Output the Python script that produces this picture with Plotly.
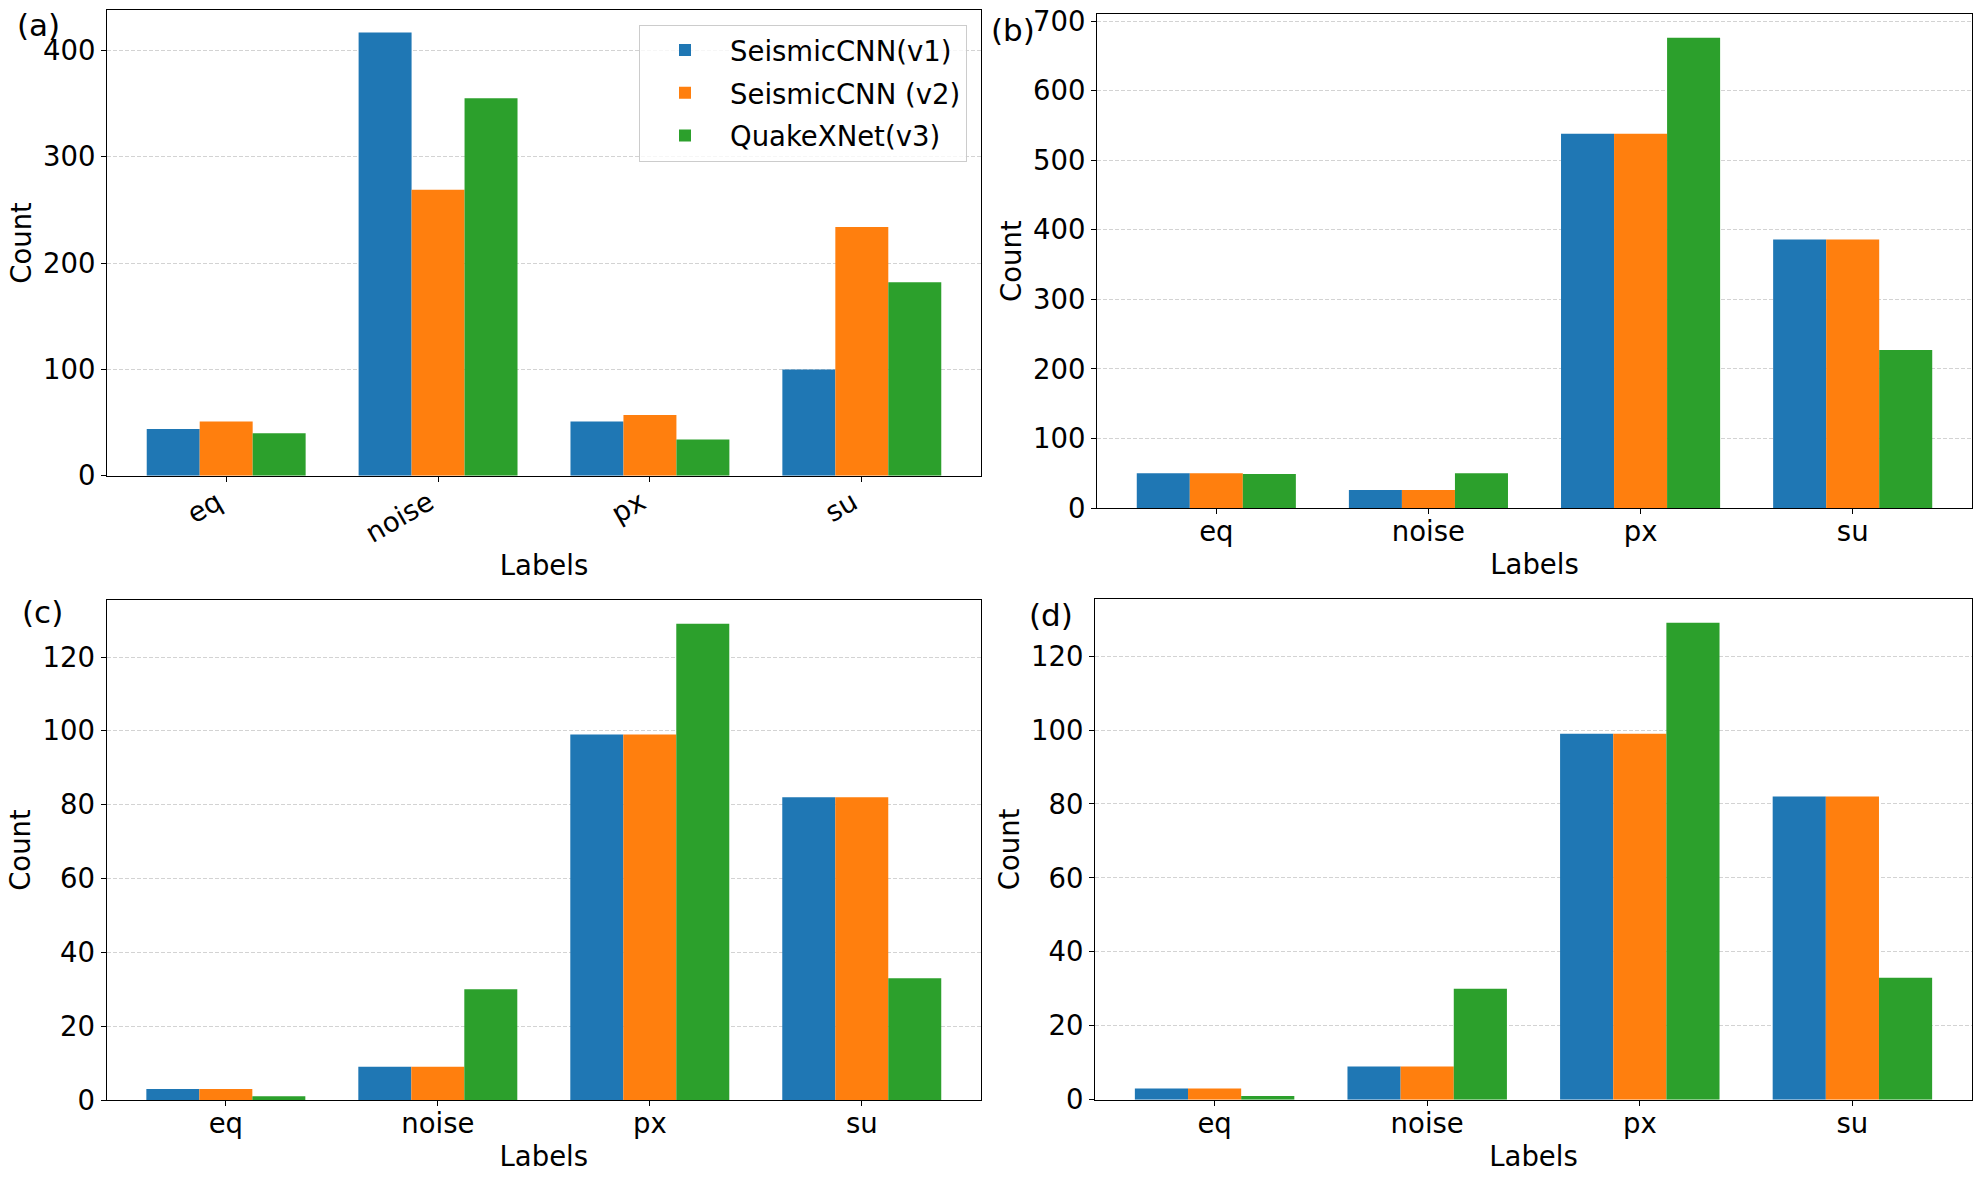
import plotly.graph_objects as go

categories = ["eq", "noise", "px", "su"]
series_names = ["SeismicCNN(v1)", "SeismicCNN (v2)", "QuakeXNet(v3)"]
colors = ["#1f77b4", "#ff7f0e", "#2ca02c"]

a_v1 = [44, 417, 51, 100]
a_v2 = [51, 269, 57, 234]
a_v3 = [40, 355, 34, 182]

b_v1 = [50, 26, 538, 386]
b_v2 = [50, 26, 538, 386]
b_v3 = [49, 50, 676, 227]

c_v1 = [3, 9, 99, 82]
c_v2 = [3, 9, 99, 82]
c_v3 = [1, 30, 129, 33]

d_v1 = [3, 9, 99, 82]
d_v2 = [3, 9, 99, 82]
d_v3 = [1, 30, 129, 33]

panel_labels = ["(a)", "(b)", "(c)", "(d)"]
panel_values = [[a_v1, a_v2, a_v3], [b_v1, b_v2, b_v3], [c_v1, c_v2, c_v3], [d_v1, d_v2, d_v3]]
panel_ticks = [[0, 100, 200, 300, 400],
               [0, 100, 200, 300, 400, 500, 600, 700],
               [0, 20, 40, 60, 80, 100, 120],
               [0, 20, 40, 60, 80, 100, 120]]

W, H = 1979, 1180
FONT = "DejaVu Sans"
FS = 27.5


def fx(px):
    return px / W


def fy(py):
    return 1 - py / H


# axes boxes in page pixels: (left, right, top, bottom)
boxes = [(107, 981, 10.3, 475.7),
         (1097, 1972, 14.3, 508),
         (106.6, 981, 600, 1100),
         (1095, 1972, 599, 1099.7)]
label_pos = [(15.5, 25), (990, 29.5), (21, 612), (1028, 614.5)]

fig = go.Figure()
layout = {}
annotations = []
for i in range(4):
    n = i + 1
    vals = panel_values[i]
    ticks = panel_ticks[i]
    xa = "x" if n == 1 else f"x{n}"
    ya = "y" if n == 1 else f"y{n}"
    for s in range(3):
        fig.add_trace(go.Bar(
            x=categories, y=vals[s], name=series_names[s],
            marker=dict(color=colors[s], line=dict(width=0)),
            xaxis=xa, yaxis=ya, showlegend=(n == 1),
            legendgroup=series_names[s], offsetgroup=str(s),
        ))
    ymax = max(max(v) for v in vals) * 1.05
    L, R, T, B = boxes[i]
    axis_common = dict(
        showline=True, mirror=True, linecolor="black", linewidth=1.1,
        ticks="outside", ticklen=5, tickwidth=1.1, tickcolor="black",
        tickfont=dict(family=FONT, size=FS, color="black"),
        automargin=False, ticklabeloverflow="allow",
    )
    layout["xaxis" if n == 1 else f"xaxis{n}"] = dict(
        domain=[fx(L), fx(R)], anchor=ya, type="category",
        categoryorder="array", categoryarray=categories,
        range=[-0.5625, 3.5625], showgrid=False,
        tickangle=-30 if n == 1 else 0,
        ticklabelstandoff=-6,
        ticklabelshift=-9 if n == 1 else 0,
        title=dict(text="Labels", font=dict(family=FONT, size=FS, color="black"),
                   standoff=8),
        **axis_common,
    )
    layout["yaxis" if n == 1 else f"yaxis{n}"] = dict(
        domain=[fy(B), fy(T)], anchor=xa, range=[0, ymax],
        tickmode="array", tickvals=ticks, ticktext=[str(t) for t in ticks],
        showgrid=True, gridcolor="#d3d3d3", griddash="4px,2px", gridwidth=1,
        zeroline=False,
        title=dict(text="Count", font=dict(family=FONT, size=FS, color="black"),
                   standoff=3),
        **axis_common,
    )
    px_, py_ = label_pos[i]
    annotations.append(dict(
        text=panel_labels[i], xref="paper", yref="paper", x=fx(px_), y=fy(py_),
        xanchor="left", yanchor="middle", showarrow=False, borderpad=0,
        font=dict(family=FONT, size=31, color="black"),
    ))

fig.update_layout(
    **layout,
    width=W, height=H,
    margin=dict(l=0, r=0, t=0, b=0),
    paper_bgcolor="white", plot_bgcolor="white",
    barmode="group", bargap=0.25, bargroupgap=0,
    font=dict(family=FONT, size=FS, color="black"),
    annotations=annotations,
    legend=dict(
        x=fx(967), y=fy(24.7), xanchor="right", yanchor="top",
        bgcolor="rgba(255,255,255,0.8)", bordercolor="#cccccc", borderwidth=1,
        font=dict(family=FONT, size=FS, color="black"),
        tracegroupgap=4, itemwidth=80,
    ),
)

fig.write_html("out.html", config={"displayModeBar": False},
               post_script="document.body.style.margin='0px';")
